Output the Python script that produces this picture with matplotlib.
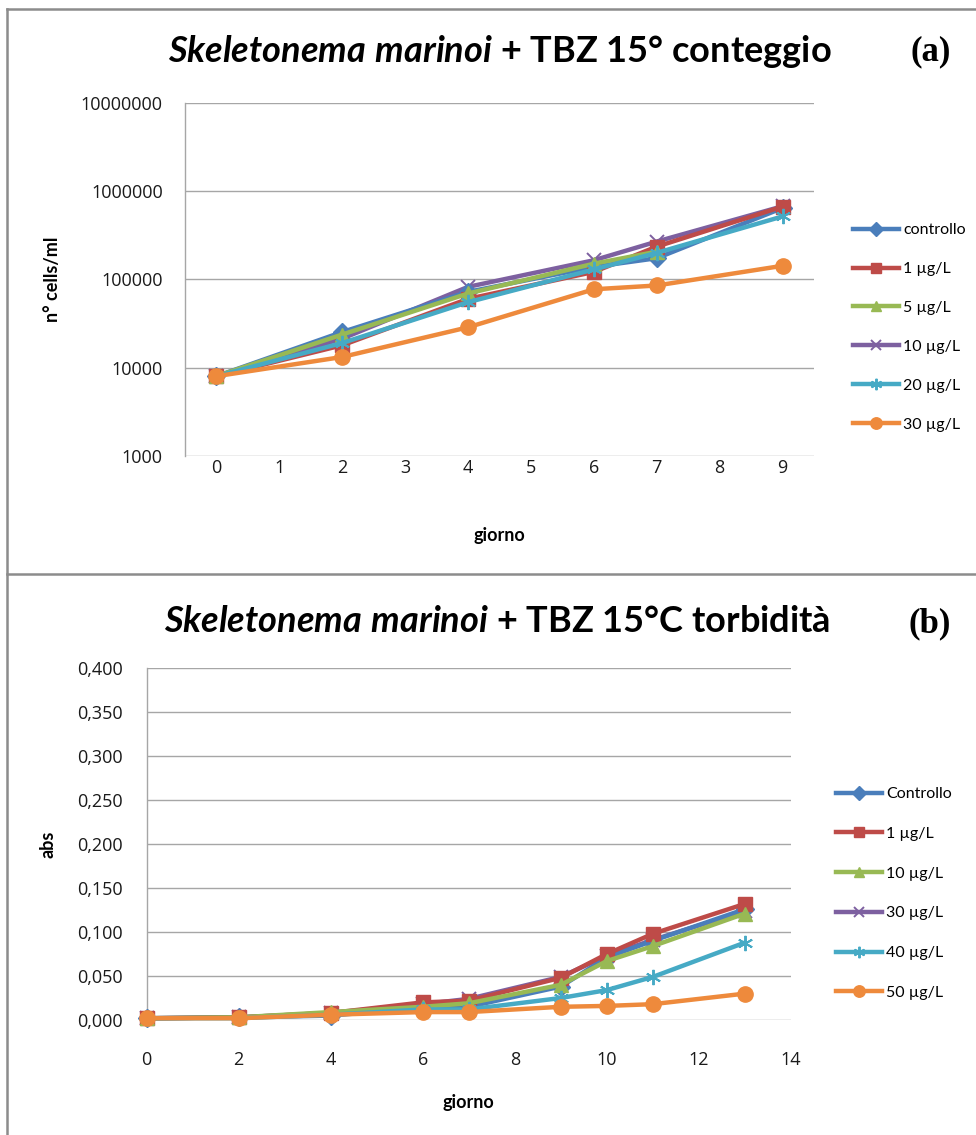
import numpy as np
import matplotlib
matplotlib.use('Agg')
import matplotlib.pyplot as plt
from matplotlib.lines import Line2D

# ---------------- data ----------------
days_a = [0, 2, 4, 6, 7, 9]
labels_a = ['controllo', '1 µg/L', '5 µg/L', '10 µg/L', '20 µg/L', '30 µg/L']
controllo_a = [8000, 25300, 72000, 138000, 173000, 640000]
ug1_a = [8000, 17900, 60000, 121000, 234000, 664000]
ug5_a = [8000, 23700, 69000, 150000, 205000, np.nan]
ug10_a = [8000, 21300, 82000, 164000, 267000, 670000]
ug20_a = [8000, 19000, 55000, 129000, 199000, 514000]
ug30_a = [8000, 13200, 28600, 77000, 85000, 142000]
xticks_a = [0, 1, 2, 3, 4, 5, 6, 7, 8, 9]
yticks_a = [1000, 10000, 100000, 1000000, 10000000]
yticklabels_a = ['1000', '10000', '100000', '1000000', '10000000']

days_b = [0, 2, 4, 6, 7, 9, 10, 11, 13]
labels_b = ['Controllo', '1 µg/L', '10 µg/L', '30 µg/L', '40 µg/L', '50 µg/L']
controllo_b = [0.002, 0.003, 0.005, 0.014, 0.015, 0.038, 0.071, 0.090, 0.126]
ug1_b = [0.002, 0.003, 0.008, 0.020, 0.022, 0.048, 0.075, 0.098, 0.132]
ug10_b = [0.002, 0.003, 0.009, 0.015, 0.019, 0.040, 0.067, 0.084, 0.121]
ug30_b = [0.002, 0.003, 0.008, 0.018, 0.024, 0.049, 0.073, 0.091, 0.124]
ug40_b = [0.002, 0.002, 0.006, 0.012, 0.012, 0.025, 0.034, 0.049, 0.088]
ug50_b = [0.002, 0.002, 0.006, 0.009, 0.009, 0.015, 0.016, 0.018, 0.030]
xticks_b = [0, 2, 4, 6, 8, 10, 12, 14]
yticks_b = [0.0, 0.05, 0.10, 0.15, 0.20, 0.25, 0.30, 0.35, 0.40]
yticklabels_b = ['0,000', '0,050', '0,100', '0,150', '0,200', '0,250', '0,300', '0,350', '0,400']

# ---------------- style ----------------
FONT = 'Lato'
TICKFONT = 'Open Sans'
plt.rcParams['font.family'] = [FONT, 'DejaVu Sans']
plt.rcParams['mathtext.fontset'] = 'custom'
plt.rcParams['mathtext.it'] = FONT + ':italic:bold'
plt.rcParams['mathtext.rm'] = FONT + ':bold'

colors = ['#4A7EBB', '#BE4B48', '#98B954', '#7D60A0', '#46AAC5', '#EE8A3C']
markers = ['D', 's', '^', 'x', (6, 2, 0), 'o']
msizes = [9, 10, 10, 10, 11, 11]
GRID = '#A6A6A6'

W, H = 976, 1135
fig = plt.figure(figsize=(W / 100, H / 100), dpi=100)

def fx(px):
    return px / W

def fy(py):
    return 1 - py / H

# panel borders
for (x0, y0, x1, y1) in [(7, 9, W, 9), (7, 9, 7, H), (7, 574, W, 574)]:
    fig.add_artist(Line2D([fx(x0), fx(x1)], [fy(y0), fy(y1)], color='#8C8C8C', lw=1.8,
                          transform=fig.transFigure))


def style_axes(ax):
    for s in ['top', 'right', 'bottom']:
        ax.spines[s].set_visible(False)
    ax.spines['left'].set_color(GRID)
    ax.spines['left'].set_linewidth(1.0)
    ax.tick_params(length=0, labelsize=13, colors='#1a1a1a')
    ax.grid(axis='y', color=GRID, lw=1.0)
    ax.set_axisbelow(True)


def set_tickfont(ax):
    for t in ax.get_xticklabels() + ax.get_yticklabels():
        t.set_family(TICKFONT)


def draw_series(ax, x, series, labels):
    handles = []
    for i, (ys, lab) in enumerate(zip(series, labels)):
        z = 3 + i
        if i == 3:
            z = 2.5
        mew = 1.4 if markers[i] in ('x', (6, 2, 0)) else 1.0
        h, = ax.plot(x, ys, color=colors[i], lw=3.2, marker=markers[i], ms=msizes[i],
                     mfc=colors[i], mec=colors[i], mew=mew, label=lab, zorder=z,
                     solid_joinstyle='round', clip_on=False)
        handles.append(h)
    return handles

# ---------------- panel (a) ----------------
ax1 = fig.add_axes([fx(185), fy(456), fx(814) - fx(185), fy(102.5) - fy(456)])
style_axes(ax1)
ax1.set_yscale('log')
ax1.set_ylim(1000, 10000000)
ax1.set_xlim(-0.5, 9.5)
ax1.set_xticks(xticks_a)
ax1.set_yticks(yticks_a)
ax1.set_yticklabels(yticklabels_a)
ax1.yaxis.set_minor_locator(matplotlib.ticker.NullLocator())
ax1.tick_params(axis='x', pad=2)
ax1.tick_params(axis='y', pad=16)
set_tickfont(ax1)
h1 = draw_series(ax1, days_a, [controllo_a, ug1_a, ug5_a, ug10_a, ug20_a, ug30_a], labels_a)
ax1.set_xlabel('giorno', fontsize=13, fontweight='bold', labelpad=36)
ax1.set_ylabel('n° cells/ml', fontsize=13, fontweight='bold', labelpad=14)
leg1 = ax1.legend(handles=h1, loc='upper left', bbox_to_anchor=(fx(853), fy(223)),
                  bbox_transform=fig.transFigure, frameon=False, fontsize=11.5,
                  handlelength=2.9, handletextpad=0.25, labelspacing=1.55, borderpad=0,
                  borderaxespad=0, markerscale=0.75)

fig.text(fx(500), fy(52), r'$\it{Skeletonema\ marinoi}$ + TBZ 15° conteggio',
         ha='center', va='center', fontsize=26, fontweight='bold')
fig.text(fx(931), fy(52), '(a)', ha='center', va='center', fontsize=25, fontweight='bold',
         family='Liberation Serif')

# ---------------- panel (b) ----------------
ax2 = fig.add_axes([fx(146.5), fy(1020), fx(791) - fx(146.5), fy(668) - fy(1020)])
style_axes(ax2)
ax2.set_ylim(0, 0.4)
ax2.set_xlim(0, 14)
ax2.set_xticks(xticks_b)
ax2.set_yticks(yticks_b)
ax2.set_yticklabels(yticklabels_b)
ax2.tick_params(axis='x', pad=22)
ax2.tick_params(axis='y', pad=17)
set_tickfont(ax2)
h2 = draw_series(ax2, days_b, [controllo_b, ug1_b, ug10_b, ug30_b, ug40_b, ug50_b], labels_b)
ax2.set_xlabel('giorno', fontsize=13, fontweight='bold', labelpad=18)
ax2.set_ylabel('abs', fontsize=13, fontweight='bold', labelpad=15)
leg2 = ax2.legend(handles=h2, loc='upper left', bbox_to_anchor=(fx(836), fy(787)),
                  bbox_transform=fig.transFigure, frameon=False, fontsize=11.5,
                  handlelength=2.9, handletextpad=0.25, labelspacing=1.6, borderpad=0,
                  borderaxespad=0, markerscale=0.75)

fig.text(fx(497), fy(621), r'$\it{Skeletonema\ marinoi}$ + TBZ 15°C torbidità',
         ha='center', va='center', fontsize=26, fontweight='bold')
fig.text(fx(930), fy(624), '(b)', ha='center', va='center', fontsize=25, fontweight='bold',
         family='Liberation Serif')

fig.savefig('out.png', dpi=100)
